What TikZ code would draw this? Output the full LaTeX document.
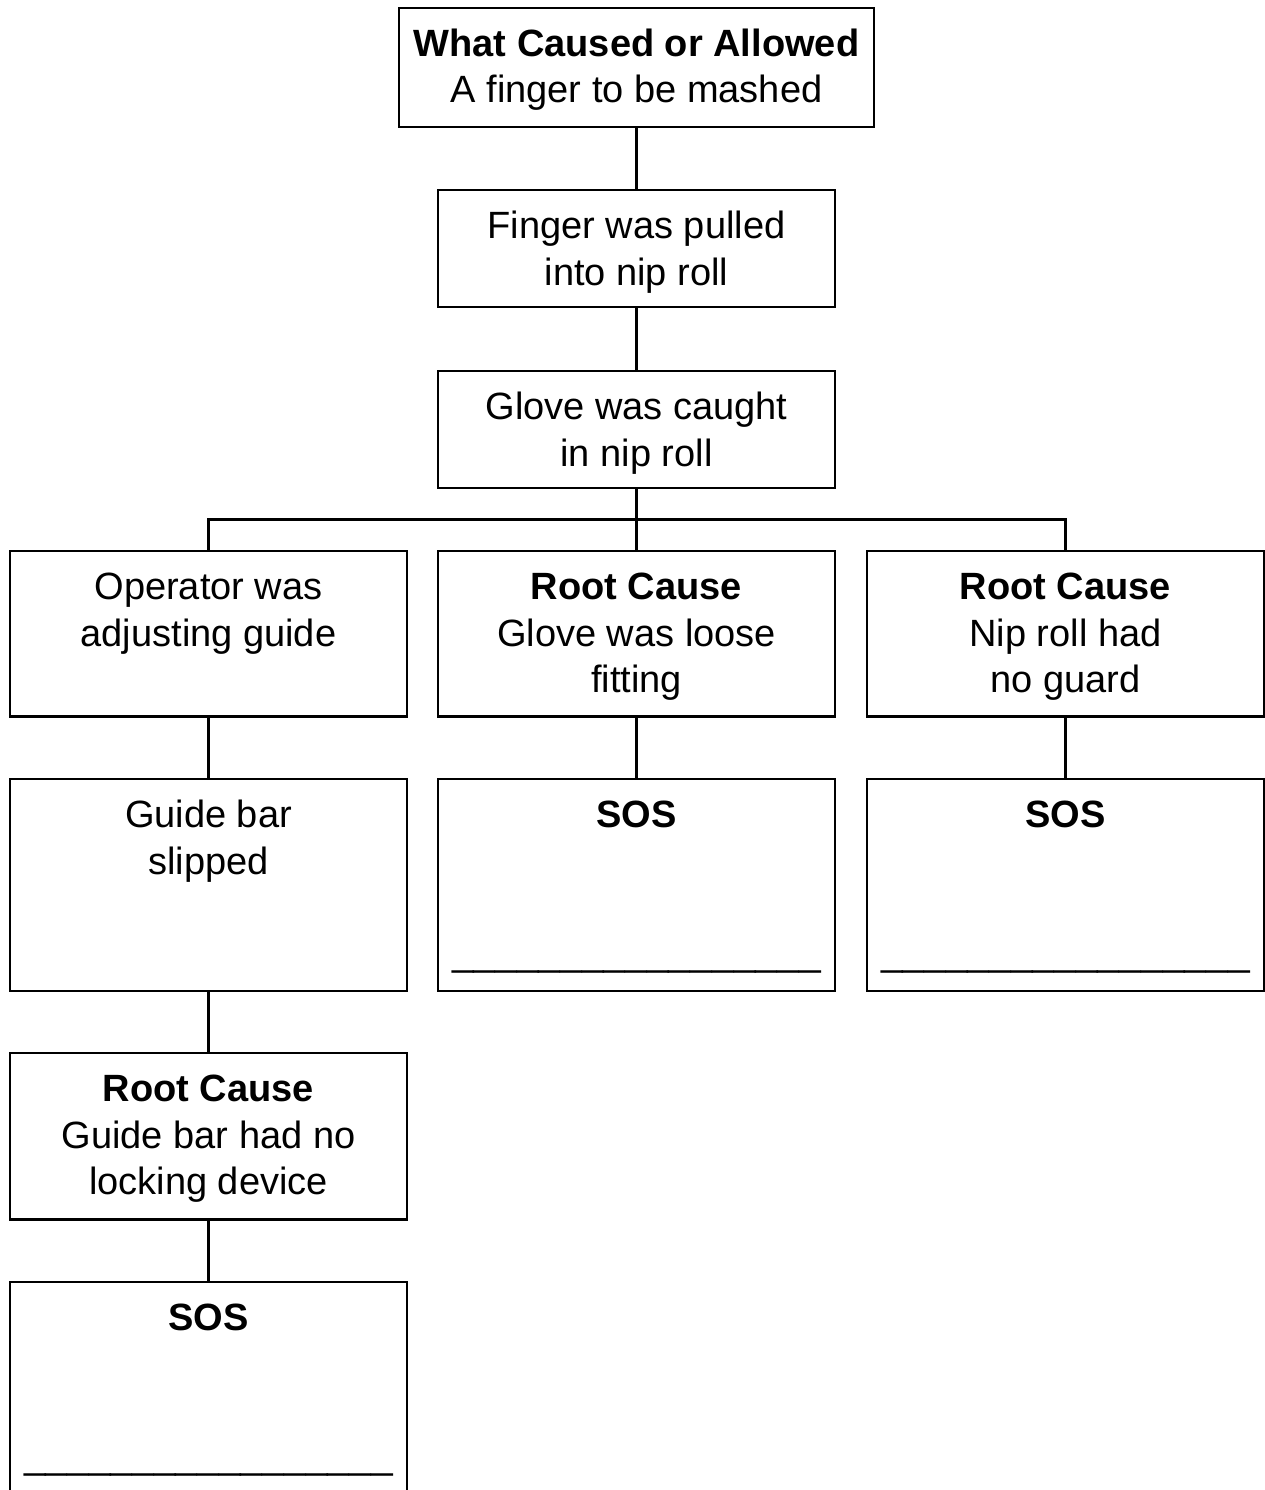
\documentclass[tikz,border=0pt]{standalone}
\usepackage{fontspec}
\setmainfont{Liberation Sans}
\newcommand\fl{\rule{0pt}{30pt}}
\newcommand\ulinetext{\textunderscore\textunderscore\textunderscore\textunderscore\textunderscore\textunderscore\textunderscore\textunderscore\textunderscore\textunderscore\textunderscore\textunderscore\textunderscore\textunderscore\textunderscore\textunderscore\textunderscore}
\begin{document}
\begin{tikzpicture}[x=1pt,y=-1pt,
  bx/.style={draw, line width=2.6pt, rectangle, inner sep=0pt, outer sep=0pt},
  wbox/.style={bx, minimum width=397pt},
  txt/.style={anchor=north, inner sep=0pt, outer sep=0pt, align=center, font=\fontsize{38}{46.5}\selectfont},
  uline/.style={anchor=base, inner sep=0pt, outer sep=0pt, font=\fontsize{39}{46}\selectfont},
  link/.style={line width=2.3pt}]
\useasboundingbox (0,0) rectangle (1265,1490);
\clip (0,0) rectangle (1265,1490);

% boxes
\node[bx, minimum width=475pt, minimum height=119pt] (top) at (636.5,67.5) {};
\node[wbox, minimum height=117pt] (b2) at (636.5,248.5) {};
\node[wbox, minimum height=117pt] (b3) at (636.5,429.5) {};
\node[wbox, minimum height=165.5pt] (r3l) at (208.5,633.75) {};
\node[wbox, minimum height=165.5pt] (r3m) at (636.5,633.75) {};
\node[wbox, minimum height=165.5pt] (r3r) at (1065.5,633.75) {};
\node[wbox, minimum height=212pt] (r4l) at (208.5,885) {};
\node[wbox, minimum height=212pt] (r4m) at (636.5,885) {};
\node[wbox, minimum height=212pt] (r4r) at (1065.5,885) {};
\node[wbox, minimum height=166.5pt] (l5) at (208.5,1136.25) {};
\node[wbox, minimum height=212pt] (l6) at (208.5,1388) {};

% texts
\node[txt] (ttop) at ([yshift=-18.5pt]top.north) {\fl\textbf{What Caused or Allowed}\\A finger to be mashed};
\node[txt] (tb2) at ([yshift=-18.5pt]b2.north) {\fl Finger was pulled\\into nip roll};
\node[txt] (tb3) at ([yshift=-18.5pt]b3.north) {\fl Glove was caught\\in nip roll};
\node[txt] (tr3l) at ([yshift=-18.5pt]r3l.north) {\fl Operator was\\adjusting guide};
\node[txt] (tr3m) at ([yshift=-18.5pt]r3m.north) {\fl\textbf{Root Cause}\\Glove was loose\\fitting};
\node[txt] (tr3r) at ([yshift=-18.5pt]r3r.north) {\fl\textbf{Root Cause}\\Nip roll had\\no guard};
\node[txt] (tr4l) at ([yshift=-18.5pt]r4l.north) {\fl Guide bar\\slipped};
\node[txt] (tr4m) at ([yshift=-18.5pt]r4m.north) {\fl\textbf{SOS}};
\node[txt] (tr4r) at ([yshift=-18.5pt]r4r.north) {\fl\textbf{SOS}};
\node[txt] (tl5) at ([yshift=-18.5pt]l5.north) {\fl\textbf{Root Cause}\\Guide bar had no\\locking device};
\node[txt] (tl6) at ([yshift=-18.5pt]l6.north) {\fl\textbf{SOS}};

\node[uline] (ur4m) at ([yshift=-186pt]r4m.north) {\ulinetext};
\node[uline] (ur4r) at ([yshift=-186pt]r4r.north) {\ulinetext};
\node[uline] (ul6) at ([yshift=-186pt]l6.north) {\ulinetext};

% connectors
\coordinate (bar) at (636.5,519.5);
\draw[link] (top.south) -- (b2.north);
\draw[link] (b2.south) -- (b3.north);
\draw[link] (b3.south) -- (bar);
\draw[link] (r3l.north) |- (bar) -| (r3r.north);
\draw[link] (bar) -- (r3m.north);
\draw[link] (r3l.south) -- (r4l.north);
\draw[link] (r3m.south) -- (r4m.north);
\draw[link] (r3r.south) -- (r4r.north);
\draw[link] (r4l.south) -- (l5.north);
\draw[link] (l5.south) -- (l6.north);
\end{tikzpicture}
\end{document}
